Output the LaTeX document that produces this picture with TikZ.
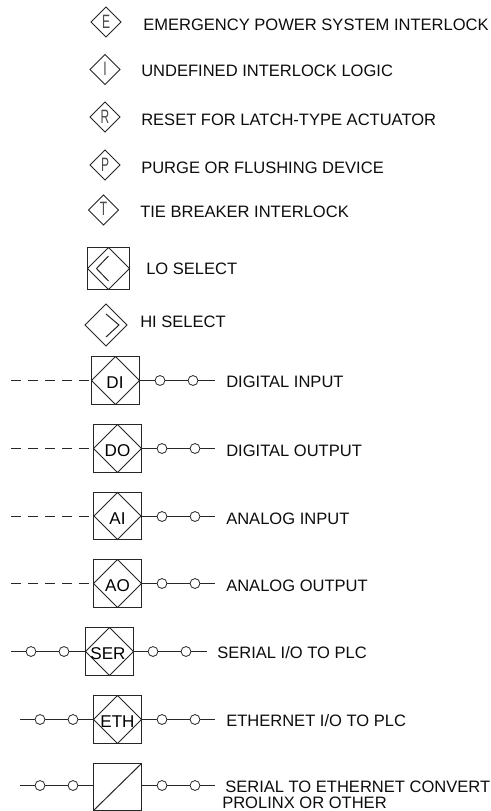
\documentclass[tikz,border=0pt]{standalone}
\usepackage{fontspec}
\setmainfont{Liberation Sans}
\newcommand{\thinfont}{\fontspec{Liberation Sans}[FakeStretch=0.62]}
\tikzset{x=0.75pt,y=-0.75pt,
  ln/.style={draw=black!85,line width=0.75pt},
  dsh/.style={ln,dash pattern=on 7.6pt off 5.2pt},
  lbl/.style={anchor=west,font=\fontsize{12.4}{13}\selectfont,inner sep=0pt,text=black!95,text height=9pt,text depth=0pt},
  dia/.style={ln},
  ctr/.style={font=\fontsize{12.8}{13}\selectfont,inner sep=0pt,text height=9.2pt,text depth=0pt},
  ltr/.style={font=\thinfont\fontsize{14.5}{15}\selectfont,inner sep=0pt,text=black!70,text height=10.4pt,text depth=0pt},
  cir/.style={circle,draw=black!85,line width=0.6pt,fill=white,minimum size=7.4pt,inner sep=0pt}}
\newcommand{\dmd}[3]{\draw[dia] (#1-#3,#2) -- (#1,#2-#3) -- (#1+#3,#2) -- (#1,#2+#3) -- cycle;}
\newcommand{\sq}[3]{\draw[ln] (#1-#3,#2-#3) rectangle (#1+#3,#2+#3);}
\begin{document}
\begin{tikzpicture}
\useasboundingbox (0,0) rectangle (491,811);
\fill[white] (0,0) rectangle (491,811);
% small interlock diamonds
\dmd{106}{22}{15} \node[ltr] (e) at (106,22) {E};
\node[lbl] (et) at (143,24) {EMERGENCY POWER SYSTEM INTERLOCK};
\dmd{105}{69.5}{15} \node[ltr] (i) at (105,68.5) {I};
\node[lbl] (it) at (141,70.7) {UNDEFINED INTERLOCK LOGIC};
\dmd{105}{117}{15} \node[ltr] (r) at (105,117) {R};
\node[lbl] (rt) at (141,119) {RESET FOR LATCH-TYPE ACTUATOR};
\dmd{105}{165}{15} \node[ltr] (p) at (105,165) {P};
\node[lbl] (pt) at (141,167) {PURGE OR FLUSHING DEVICE};
\dmd{103.5}{210}{15} \node[ltr] (t) at (103.5,209) {T};
\node[lbl] (tt) at (140,211) {TIE BREAKER INTERLOCK};
% select
\draw[ln] (87.5,247.5) rectangle (129.5,289.5);
\dmd{108.5}{268.5}{21}
\draw[ln] (108.5,256) -- (96.5,268.5) -- (108.5,281);
\node[lbl] (lo) at (146,268) {LO SELECT};
\dmd{106}{325}{21}
\draw[ln] (106,314) -- (119,325) -- (106,337);
\node[lbl] (hi) at (140,321) {HI SELECT};
% DI
\coordinate (d1) at (11,380.5); \coordinate (d1e) at (215,380.5);
\draw[dsh] (d1) -- (91.5,380.5);
\draw[ln] (139.5,380.5) -- (d1e);
\sq{115.5}{380.5}{24} \dmd{115.5}{380.5}{24}
\node[ctr] (di) at (115,382) {DI};
\node[cir] (c1) at (160,380.5) {}; \node[cir] (c2) at (193,380.5) {};
\node[lbl] (dit) at (226,381) {DIGITAL INPUT};
% DO
\coordinate (d2) at (11,448.5); \coordinate (d2e) at (215,448.5);
\draw[dsh] (d2) -- (93.5,448.5);
\draw[ln] (141.5,448.5) -- (d2e);
\sq{117.5}{448.5}{24} \dmd{117.5}{448.5}{24}
\node[ctr] (do) at (117.5,450) {DO};
\node[cir] (c3) at (162,448.5) {}; \node[cir] (c4) at (195,448.5) {};
\node[lbl] (dot) at (226,450) {DIGITAL OUTPUT};
% AI
\coordinate (d3) at (11,516.5); \coordinate (d3e) at (215,516.5);
\draw[dsh] (d3) -- (93.5,516.5);
\draw[ln] (141.5,516.5) -- (d3e);
\draw[ln] (93.5,492.5) rectangle (141.5,539.5); \dmd{117.5}{516}{23.5}
\node[ctr] (ai) at (117.5,518) {AI};
\node[cir] (c5) at (162,516.5) {}; \node[cir] (c6) at (195,516.5) {};
\node[lbl] (ait) at (226,518) {ANALOG INPUT};
% AO
\coordinate (d4) at (11,583.5); \coordinate (d4e) at (215,583.5);
\draw[dsh] (d4) -- (93.5,583.5);
\draw[ln] (141.5,583.5) -- (d4e);
\draw[ln] (93.5,559.5) rectangle (141.5,607.5); \dmd{117.5}{583.5}{24}
\node[ctr] (ao) at (117.5,585.5) {AO};
\node[cir] (c7) at (162,583.5) {}; \node[cir] (c8) at (195,583.5) {};
\node[lbl] (aot) at (226,585.5) {ANALOG OUTPUT};
% SER
\coordinate (s1) at (11,651.5); \coordinate (s1e) at (207,651.5);
\draw[ln] (s1) -- (85.5,651.5); \draw[ln] (133.5,651.5) -- (s1e);
\sq{109.5}{651.5}{24} \dmd{109.5}{651.5}{24}
\node[ctr] (ser) at (108,653) {SER};
\node[cir] (c9) at (31,651.5) {}; \node[cir] (c10) at (64,651.5) {};
\node[cir] (c11) at (153,651.5) {}; \node[cir] (c12) at (186,651.5) {};
\node[lbl] (sert) at (217,652) {SERIAL I/O TO PLC};
% ETH
\coordinate (s2) at (20,719.5); \coordinate (s2e) at (215,719.5);
\draw[ln] (s2) -- (93.5,719.5); \draw[ln] (141.5,719.5) -- (s2e);
\sq{117.5}{719.5}{24} \dmd{117.5}{719.5}{24}
\node[ctr] (eth) at (117.5,721) {ETH};
\node[cir] (c13) at (40,719.5) {}; \node[cir] (c14) at (73,719.5) {};
\node[cir] (c15) at (162,719.5) {}; \node[cir] (c16) at (195,719.5) {};
\node[lbl] (etht) at (226,720) {ETHERNET I/O TO PLC};
% converter
\coordinate (s3) at (20,785.5); \coordinate (s3e) at (215,785.5);
\draw[ln] (s3) -- (93.5,785.5); \draw[ln] (141.5,785.5) -- (s3e);
\draw[ln] (93.5,763.5) rectangle (141.5,810.5);
\draw[ln] (93.5,810.5) -- (141.5,763.5);
\node[cir] (c17) at (40,785.5) {}; \node[cir] (c18) at (73,785.5) {};
\node[cir] (c19) at (162,785.5) {}; \node[cir] (c20) at (195,785.5) {};
\node[lbl] (cvt) at (225,786) {SERIAL TO ETHERNET CONVERT};
\node[lbl] (cvt2) at (222,802) {PROLINX OR OTHER};
\end{tikzpicture}
\end{document}
